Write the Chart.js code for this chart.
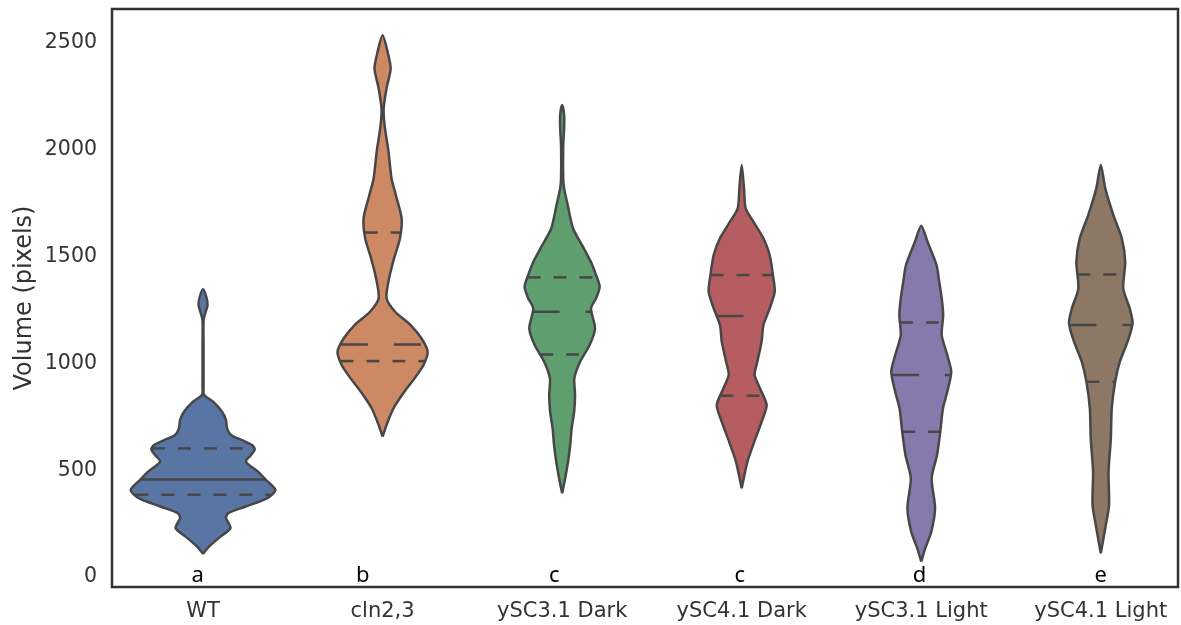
<!DOCTYPE html>
<html>
<head>
<style>
  body { margin: 0; background: #fff; }
  #wrap { width: 1181px; height: 625px; }
</style>
</head>
<body>
<div id="wrap"><canvas id="chart" width="1181" height="625"></canvas></div>
<script src="https://cdn.jsdelivr.net/npm/chart.js"></script>
<script>
// categories and labels
const categories = ['WT', 'cln2,3', 'ySC3.1 Dark', 'ySC4.1 Dark', 'ySC3.1 Light', 'ySC4.1 Light'];
const letters = ['a', 'b', 'c', 'c', 'd', 'e'];
const letterPos = [-0.03, 0.89, 1.956, 2.99, 3.99, 5.0];
const yTicks = [0, 500, 1000, 1500, 2000, 2500];

// violin outlines: volume and half width (in category units)
const wtVol = [108, 142, 189, 229, 276, 298, 329, 368, 407, 454, 493, 540, 571, 598, 618, 641, 665, 696, 735, 774, 821, 852, 890, 1077, 1203, 1240, 1273, 1310, 1347];
const wtHalf = [0, 0.033, 0.097, 0.153, 0.128, 0.139, 0.234, 0.356, 0.403, 0.351, 0.306, 0.239, 0.267, 0.288, 0.273, 0.217, 0.156, 0.134, 0.128, 0.106, 0.056, 0.006, 0.003, 0.003, 0.003, 0.014, 0.025, 0.019, 0];

const clnVol = [657, 712, 790, 867, 930, 993, 1055, 1117, 1180, 1242, 1305, 1398, 1492, 1586, 1679, 1788, 1866, 1991, 2116, 2194, 2288, 2381, 2459, 2537];
const clnHalf = [0, 0.022, 0.061, 0.121, 0.178, 0.228, 0.251, 0.217, 0.156, 0.070, 0.022, 0.036, 0.064, 0.097, 0.106, 0.074, 0.050, 0.033, 0.011, 0.006, 0.022, 0.045, 0.028, 0];

const d31Vol = [392, 462, 540, 618, 696, 774, 852, 930, 1008, 1086, 1164, 1258, 1305, 1359, 1414, 1476, 1554, 1632, 1742, 1820, 1866, 2022, 2101, 2163, 2210];
const d31Half = [0, 0.017, 0.033, 0.045, 0.053, 0.067, 0.072, 0.068, 0.100, 0.153, 0.183, 0.161, 0.189, 0.209, 0.189, 0.160, 0.111, 0.061, 0.031, 0.011, 0.006, 0.006, 0.011, 0.011, 0];

const d41Vol = [415, 540, 633, 727, 805, 883, 946, 1008, 1102, 1180, 1258, 1336, 1414, 1508, 1586, 1664, 1726, 1820, 1929];
const d41Half = [0, 0.032, 0.070, 0.111, 0.139, 0.102, 0.072, 0.087, 0.111, 0.121, 0.156, 0.184, 0.174, 0.156, 0.121, 0.065, 0.022, 0.013, 0];

const l31Vol = [72, 134, 212, 322, 462, 571, 680, 790, 867, 961, 1039, 1133, 1227, 1305, 1383, 1461, 1570, 1645];
const l31Half = [0, 0.022, 0.056, 0.077, 0.058, 0.088, 0.106, 0.121, 0.145, 0.167, 0.145, 0.114, 0.122, 0.114, 0.100, 0.085, 0.035, 0];

const l41Vol = [111, 243, 337, 493, 649, 790, 914, 1008, 1102, 1188, 1258, 1351, 1476, 1586, 1695, 1820, 1929];
const l41Half = [0, 0.028, 0.046, 0.043, 0.056, 0.061, 0.080, 0.106, 0.149, 0.177, 0.161, 0.125, 0.136, 0.117, 0.070, 0.025, 0];

// quartiles (25, 50, 75)
const q25 = [385, 1011, 1042, 849, 680, 914];
const q50 = [457, 1089, 1242, 1222, 946, 1180];
const q75 = [602, 1613, 1403, 1414, 1192, 1417];

const colors = ['#5875a4', '#cc8963', '#5f9e6e', '#b55d60', '#857aab', '#8d7866'];
const edge = '#474747';

const profiles = [
  [wtVol, wtHalf], [clnVol, clnHalf], [d31Vol, d31Half],
  [d41Vol, d41Half], [l31Vol, l31Half], [l41Vol, l41Half]
];

function halfAt(vol, half, v) {
  for (let k = 1; k < vol.length; k++) {
    if (v <= vol[k]) {
      const t = (v - vol[k - 1]) / (vol[k] - vol[k - 1]);
      return half[k - 1] + t * (half[k] - half[k - 1]);
    }
  }
  return 0;
}

const datasets = [];
profiles.forEach(([vol, half], i) => {
  const pts = [];
  for (let k = 0; k < vol.length; k++) pts.push({ x: i + half[k], y: vol[k] });
  for (let k = vol.length - 2; k >= 0; k--) pts.push({ x: i - half[k], y: vol[k] });
  datasets.push({
    data: pts,
    showLine: true,
    fill: 'shape',
    backgroundColor: colors[i],
    borderColor: edge,
    borderWidth: 2.5,
    pointRadius: 0,
    tension: 0.25,
    order: 2
  });
  // quartile lines
  [[q25[i], [13, 13]], [q50[i], i === 0 ? [] : [27, 26]], [q75[i], [13, 13]]].forEach(([q, dash]) => {
    const w = halfAt(vol, half, q);
    datasets.push({
      data: [{ x: i - w, y: q }, { x: i + w, y: q }],
      showLine: true,
      fill: false,
      borderColor: edge,
      borderWidth: 2.5,
      borderDash: dash,
      pointRadius: 0,
      order: 1
    });
  });
});

const framePlugin = {
  id: 'frame',
  afterDatasetsDraw(chart) {
    const { ctx, chartArea: a, scales } = chart;
    ctx.save();
    ctx.strokeStyle = '#333';
    ctx.lineWidth = 2.5;
    ctx.strokeRect(a.left, a.top, a.right - a.left, a.bottom - a.top);
    ctx.fillStyle = '#000';
    ctx.font = '22px "Noto Sans"';
    ctx.textAlign = 'center';
    ctx.textBaseline = 'alphabetic';
    letters.forEach((t, i) => {
      ctx.fillText(t, scales.x.getPixelForValue(letterPos[i]), scales.y.getPixelForValue(0) + 5);
    });
    ctx.restore();
  }
};

new Chart(document.getElementById('chart').getContext('2d'), {
  type: 'scatter',
  data: { datasets },
  plugins: [framePlugin],
  options: {
    responsive: false,
    animation: false,
    devicePixelRatio: 1,
    layout: { padding: { top: 9, right: 3, left: 0, bottom: 0 } },
    plugins: { legend: { display: false }, tooltip: { enabled: false } },
    scales: {
      x: {
        type: 'linear',
        min: -0.507,
        max: 5.43,
        grid: { display: false, drawTicks: false },
        border: { display: false },
        afterBuildTicks: s => { s.ticks = categories.map((c, i) => ({ value: i })); },
        afterFit: s => { s.height = 38; s.paddingLeft = 0; s.paddingRight = 0; },
        ticks: {
          padding: 12,
          color: '#333',
          font: { family: 'DejaVu Sans', size: 21 },
          maxRotation: 0,
          autoSkip: false,
          callback: v => categories[v]
        }
      },
      y: {
        type: 'linear',
        min: -47,
        max: 2660,
        grid: { display: false, drawTicks: false },
        border: { display: false },
        afterBuildTicks: s => { s.ticks = yTicks.map(v => ({ value: v })); },
        afterFit: s => { s.width = 112; s.paddingTop = 0; s.paddingBottom = 0; },
        ticks: {
          padding: 15,
          color: '#333',
          font: { family: 'DejaVu Sans', size: 20.5 },
          callback: v => String(v)
        },
        title: {
          display: true,
          text: 'Volume (pixels)',
          color: '#333',
          font: { family: 'DejaVu Sans', size: 24 },
          padding: { top: 10, bottom: 0 }
        }
      }
    }
  }
});
</script>
</body>
</html>
